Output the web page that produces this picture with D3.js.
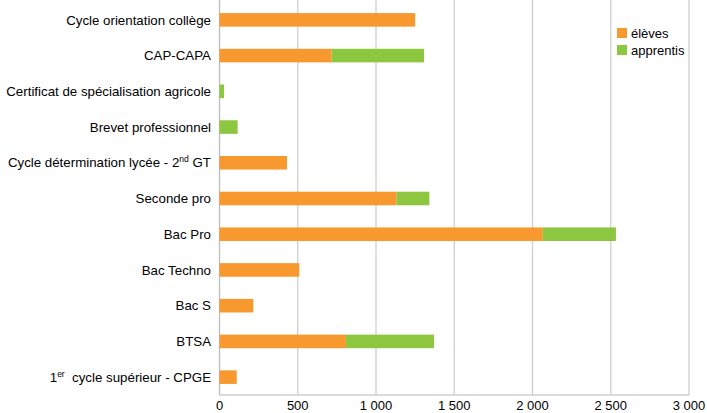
<!DOCTYPE html>
<html><head><meta charset="utf-8">
<script src="https://cdn.jsdelivr.net/npm/d3@7"></script>
<style>body{margin:0;background:#fff;} svg{display:block;font-family:"Liberation Sans",Arial,sans-serif;}</style>
</head><body><svg id="c" width="707" height="413"></svg>
<script>
const categories = ["Cycle orientation collège","CAP-CAPA","Certificat de spécialisation agricole","Brevet professionnel","Cycle détermination lycée - 2{nd} GT","Seconde pro","Bac Pro","Bac Techno","Bac S","BTSA","1{er}  cycle supérieur - CPGE"];
const eleves =    [1250, 717, 0, 0, 431, 1132, 2066, 510, 216, 808, 110];
const apprentis = [0, 590, 29, 116, 0, 209, 467, 0, 0, 563, 0];
const seriesNames = ["élèves","apprentis"];
const colors = ["#f7992f","#8dc63f"];
const xTicks = [0,500,1000,1500,2000,2500,3000];

const svg = d3.select("#c");
const m = {left:219.5, right:689, top:2, bottom:395};
const x = d3.scaleLinear().domain([0,3000]).range([m.left,m.right]);
const y = d3.scaleBand().domain(categories).range([m.top,m.bottom]).paddingInner(0.62).paddingOuter(0.31);

const fmt = v => d3.format(",")(v).replace(/,/g," ");
// gridlines
svg.append("g").selectAll("line").data(xTicks.slice(1)).join("line")
  .attr("x1",d=>x(d)).attr("x2",d=>x(d)).attr("y1",m.top-2).attr("y2",m.bottom)
  .attr("stroke","#cfcfcf").attr("stroke-width",1.3);
// axis lines
svg.append("line").attr("x1",x(0)).attr("x2",x(0)).attr("y1",m.top-2).attr("y2",m.bottom).attr("stroke","#bdbdbd").attr("stroke-width",1.3);
svg.append("line").attr("x1",x(0)).attr("x2",x(3000)).attr("y1",m.bottom).attr("y2",m.bottom).attr("stroke","#cfcfcf").attr("stroke-width",1.3);

// tick labels
svg.append("g").selectAll("text").data(xTicks).join("text")
  .attr("x",d=>x(d)).attr("y",410).attr("text-anchor","middle")
  .attr("font-size",13).attr("fill","#000").text(fmt);

// stacked bars
const data = categories.map((c,i)=>({c, vals:[eleves[i],apprentis[i]]}));
const stack = d3.stack().keys([0,1]).value((d,k)=>d.vals[k])(data);
svg.append("g").selectAll("g").data(stack).join("g").attr("fill",(d,i)=>colors[i])
  .selectAll("rect").data(d=>d).join("rect")
  .attr("x",d=>x(d[0])).attr("width",d=>Math.max(0,x(d[1])-x(d[0])))
  .attr("y",d=>y(d.data.c)).attr("height",y.bandwidth());

// category labels with superscripts
const lab = svg.append("g").selectAll("text").data(categories).join("text")
  .attr("x",211).attr("y",d=>y(d)+y.bandwidth()/2+4.7).attr("text-anchor","end")
  .attr("font-size",13.3).attr("fill","#000").attr("xml:space","preserve");
lab.each(function(d){
  const t = d3.select(this);
  const parts = d.split(/(\{[^}]*\})/).filter(p=>p);
  let shift = 0;
  parts.forEach(p=>{
    if(p.startsWith("{")){
      t.append("tspan").attr("font-size",8.5).attr("dy",-5).text(p.slice(1,-1));
      shift = 5;
    } else {
      const ts = t.append("tspan").style("white-space","pre").text(p);
      if(shift){ ts.attr("dy",shift); shift = 0; }
    }
  });
});

// legend
const lg = svg.append("g");
seriesNames.forEach((s,i)=>{
  lg.append("rect").attr("x",617).attr("y",28+i*17).attr("width",10).attr("height",10).attr("fill",colors[i]);
  lg.append("text").attr("x",631).attr("y",37.5+i*17).attr("font-size",13).attr("fill","#000").text(s);
});
</script></body></html>
